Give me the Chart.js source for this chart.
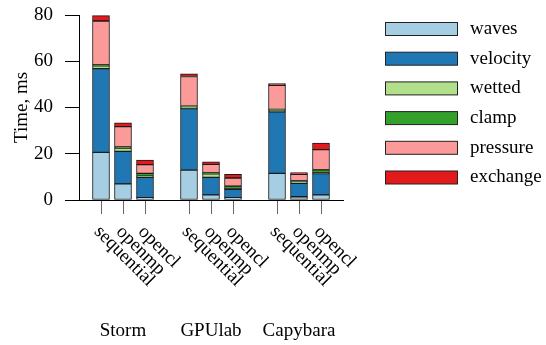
<!DOCTYPE html>
<html lang="en">
<head>
    <meta charset="UTF-8">
    <title>Time per stage</title>
    <script src="https://cdn.jsdelivr.net/npm/chart.js"></script>
    <style>
        html, body { margin: 0; padding: 0; background: #fff; }
        #wrap { width: 546px; height: 345px; }
    </style>
</head>
<body>
<div id="wrap"><canvas id="timeChart"></canvas></div>

<script>
    // bar positions on the x axis (empty slots between machines)
    const positions = [1, 2, 3, 5, 6, 7, 9, 10, 11];
    const tickLabels = ['sequential', 'openmp', 'opencl', 'sequential', 'openmp', 'opencl', 'sequential', 'openmp', 'opencl'];
    const machines = ['Storm', 'GPUlab', 'Capybara'];
    const machineCenters = [2, 6, 10];
    const yTicks = [0, 20, 40, 60, 80];

    // stage times, ms
    const waves    = [20.6, 7.0, 1.0, 12.9, 2.2, 1.0, 11.5, 1.4, 2.2];
    const velocity = [36.2, 14.0, 8.8, 26.6, 7.6, 3.6, 26.6, 5.8, 9.2];
    const wetted   = [1.2, 1.5, 0.5, 0.7, 1.5, 0.3, 0.8, 0.7, 0.4];
    const clamp    = [0.4, 0.4, 1.2, 0.4, 0.4, 1.1, 0.3, 0.4, 1.2];
    const pressure = [19.0, 8.8, 3.8, 12.8, 3.7, 3.5, 10.4, 2.8, 8.8];
    const exchange = [2.3, 1.7, 2.0, 1.2, 1.1, 1.6, 0.7, 0.8, 2.8];

    const stageNames = ['waves', 'velocity', 'wetted', 'clamp', 'pressure', 'exchange'];
    const stageColors = ['#a6cee3', '#1f78b4', '#b2df8a', '#33a02c', '#fb9a99', '#e31a1c'];
    const stageData = [waves, velocity, wetted, clamp, pressure, exchange];

    const FONT = 'Liberation Serif';

    // rotated labels, machine names and legend
    const extraText = {
        id: 'extraText',
        afterDraw(chart) {
            const ctx = chart.ctx;
            const xs = chart.scales.x;
            ctx.save();
            ctx.fillStyle = '#000';
            ctx.font = '19px "' + FONT + '"';

            // rotated run labels
            positions.forEach((p, i) => {
                const px = xs.getPixelForValue(p);
                ctx.save();
                ctx.translate(px - 4, 229);
                ctx.rotate(Math.PI / 4);
                ctx.textAlign = 'left';
                ctx.textBaseline = 'middle';
                ctx.fillText(tickLabels[i], 0, 0);
                ctx.restore();
            });

            // machine names
            ctx.textAlign = 'center';
            ctx.textBaseline = 'middle';
            machines.forEach((m, i) => {
                ctx.fillText(m, xs.getPixelForValue(machineCenters[i]), 331);
            });

            // legend
            ctx.textAlign = 'left';
            chart.data.datasets.forEach((ds, i) => {
                const cy = 29 + i * 29.7;
                ctx.fillStyle = ds.backgroundColor;
                ctx.fillRect(385.5, cy - 6.5, 72, 13);
                ctx.strokeStyle = '#222';
                ctx.lineWidth = 1;
                ctx.strokeRect(385.5, cy - 6.5, 72, 13);
                ctx.fillStyle = '#000';
                ctx.fillText(ds.label, 470, cy);
            });
            ctx.restore();
        }
    };

    const datasets = stageNames.map((name, k) => ({
        label: name,
        data: positions.map((p, i) => ({ x: p, y: stageData[k][i] })),
        backgroundColor: stageColors[k],
        borderColor: '#1a1a1a',
        borderWidth: 1,
        borderSkipped: false,
        barThickness: 17
    }));

    new Chart(document.getElementById('timeChart'), {
        type: 'bar',
        data: { datasets: datasets },
        plugins: [extraText],
        options: {
            responsive: true,
            maintainAspectRatio: false,
            animation: false,
            layout: { padding: { left: 0, right: 203, top: 15, bottom: 131 } },
            plugins: {
                legend: { display: false },
                tooltip: { enabled: false }
            },
            scales: {
                x: {
                    type: 'linear',
                    stacked: true,
                    offset: false,
                    min: 0,
                    max: 12,
                    afterBuildTicks: (scale) => { scale.ticks = positions.map(v => ({ value: v })); },
                    ticks: { display: false },
                    grid: { offset: false, drawOnChartArea: false, drawTicks: true, tickLength: 14, tickColor: '#666' },
                    border: { display: true, color: '#000', width: 1 }
                },
                y: {
                    stacked: true,
                    min: 0,
                    max: 80,
                    afterBuildTicks: (scale) => { scale.ticks = yTicks.map(v => ({ value: v })); },
                    afterFit: (scale) => {
                        scale.width = 79;
                        scale.paddingTop = 0;
                        scale.paddingBottom = 0;
                    },
                    ticks: { color: '#000', padding: 12, font: { family: FONT, size: 19 } },
                    grid: { drawOnChartArea: false, drawTicks: true, tickLength: 14, tickColor: '#000' },
                    border: { display: true, color: '#000', width: 1 },
                    title: { display: true, text: 'Time, ms', color: '#000', padding: { top: 11, bottom: 0 }, font: { family: FONT, size: 19 } }
                }
            }
        }
    });
</script>
</body>
</html>
